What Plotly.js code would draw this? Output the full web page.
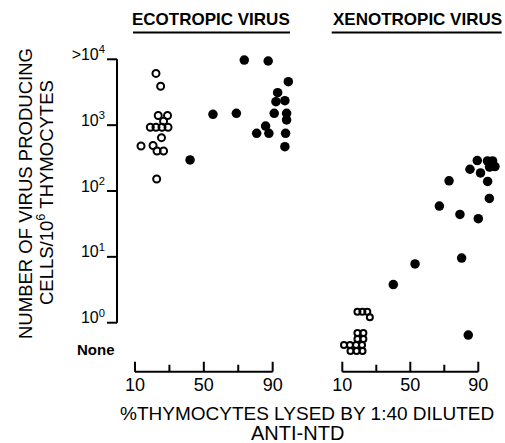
<!DOCTYPE html>
<html>
<head>
<meta charset="utf-8">
<script src="https://cdn.plot.ly/plotly-3.0.1.min.js"></script>
<style>html,body{margin:0;padding:0;background:#fff}#chart{width:505px;height:443px}</style>
</head>
<body>
<div id="chart"></div>
<script>
// Ecotropic virus panel
var ecoOpenX = [22.2, 24.9, 23.5, 28.9, 26.6, 18.9, 22.2, 25.7, 29.2, 25.4, 13.5, 20.5, 22.8, 26.6, 22.6];
var ecoOpenY = [6100, 3900, 1400, 1400, 1150, 930, 930, 930, 930, 645, 482, 491, 405, 405, 152];
var ecoFilledX = [73.5, 87.4, 99.1, 92.9, 91.9, 97.1, 55.3, 68.9, 90.9, 98.1, 98.1, 85.9, 80.7, 87.8, 97.5, 97.1, 42.0];
var ecoFilledY = [9750, 9420, 4570, 3110, 2270, 2350, 1460, 1510, 1510, 1510, 1200, 970, 752, 752, 752, 471, 296];
// Xenotropic virus panel
var xenoOpenX = [18.9, 21.8, 24.7, 26.2, 18.9, 22.4, 18.9, 22.4, 11.0, 14.5, 18.1, 21.6, 14.8, 18.4, 21.9];
var xenoOpenY = [1.47, 1.47, 1.47, 1.21, 0.70, 0.70, 0.565, 0.565, 0.458, 0.458, 0.458, 0.458, 0.372, 0.372, 0.372];
var xenoFilledX = [85.1, 89.4, 91.3, 95.4, 98.4, 96.6, 99.8, 95.5, 72.8, 96.5, 67.1, 79.2, 90.0, 80.2, 52.8, 40.0, 84.1];
var xenoFilledY = [214, 290, 188, 286, 286, 231, 235, 140, 143, 77, 59, 44, 38, 9.6, 7.8, 3.8, 0.65];
// Axis ticks
var xTickVals = [10, 50, 90];
var xMinorVals = [30, 70];
var yTickVals = [1, 10, 100, 1000, 10000];
var yTickText = ['10<sup>0</sup>', '10<sup>1</sup>', '10<sup>2</sup>', '10<sup>3</sup>', '>10<sup>4</sup>'];

var W = 505, H = 443;
function px(x){return x/W;}
function py(y){return (H-y)/H;}

var openMarker = {symbol:'circle-open', size:7, color:'#000', line:{width:2, color:'#000'}};
var openMarkerSmall = {symbol:'circle-open', size:6, color:'#000', line:{width:2, color:'#000'}};
var filledMarker = {symbol:'circle', size:9.5, color:'#000'};

var traces = [
  {x:ecoOpenX, y:ecoOpenY, type:'scatter', mode:'markers', marker:openMarker, xaxis:'x', yaxis:'y', cliponaxis:false, name:'Ecotropic open'},
  {x:ecoFilledX, y:ecoFilledY, type:'scatter', mode:'markers', marker:filledMarker, xaxis:'x', yaxis:'y', cliponaxis:false, name:'Ecotropic filled'},
  {x:xenoOpenX, y:xenoOpenY, type:'scatter', mode:'markers', marker:openMarkerSmall, xaxis:'x2', yaxis:'y', cliponaxis:false, name:'Xenotropic open'},
  {x:xenoFilledX, y:xenoFilledY, type:'scatter', mode:'markers', marker:filledMarker, xaxis:'x2', yaxis:'y', cliponaxis:false, name:'Xenotropic filled'}
];

var FONT = 'Liberation Sans, Arial, sans-serif';
var AXIS_Y = 371.7;   // pixel row of the x-axis lines
var Y_LINE_X = 117;   // pixel column of the y-axis line
function xAxis(domain, range){
  return {
    domain:domain, range:range, anchor:'free', position:py(AXIS_Y),
    showline:false, ticks:'', ticklabelstandoff:0,
    tickmode:'array', tickvals:xTickVals,
    tickfont:{family:FONT, size:18, color:'#000'},
    showgrid:false, zeroline:false, fixedrange:true
  };
}
// left panel: 10 -> px 135 at 1.7213 px/unit; right panel: 10 -> px 342.3 at 1.7 px/unit
var xaxis1 = xAxis([px(100), px(291.6)], [-10.33, 101]);
var xaxis2 = xAxis([px(340.6), px(497.85)], [9, 101.5]);

var shapes = [];
function line(xref, yref, x0, x1, y0, y1){
  shapes.push({type:'line', xref:xref, yref:yref, x0:x0, x1:x1, y0:y0, y1:y1, line:{color:'#000', width:2}});
}
// y-axis line and ticks (positions from the y scale)
line('paper', 'y', px(Y_LINE_X), px(Y_LINE_X), yTickVals[0], yTickVals[yTickVals.length-1]);
yTickVals.forEach(function(v){ line('paper', 'y', px(Y_LINE_X-10), px(Y_LINE_X), v, v); });
// x-axis lines and ticks for both panels (positions from each x scale)
['x', 'x2'].forEach(function(ax){
  line(ax, 'paper', xTickVals[0], xTickVals[xTickVals.length-1], py(AXIS_Y), py(AXIS_Y));
  xTickVals.forEach(function(v){ line(ax, 'paper', v, v, py(AXIS_Y), py(AXIS_Y-10)); });
  xMinorVals.forEach(function(v){ line(ax, 'paper', v, v, py(AXIS_Y), py(AXIS_Y-7)); });
});
// title underlines
line('paper', 'paper', px(133), px(290), py(32.5), py(32.5));
line('paper', 'paper', px(331.7), px(501.7), py(32.5), py(32.5));

var layout = {
  width:W, height:H, margin:{l:0,r:0,t:0,b:0},
  paper_bgcolor:'#fff', plot_bgcolor:'rgba(0,0,0,0)', showlegend:false,
  font:{family:FONT, color:'#000'},
  xaxis:xaxis1, xaxis2:xaxis2,
  yaxis:{
    type:'log', range:[-0.870, 4.05], domain:[py(380), py(56)], anchor:'free', position:px(Y_LINE_X),
    showline:false, ticks:'', ticklabelstandoff:12, ticklabelshift:-5,
    tickmode:'array', tickvals:yTickVals, ticktext:yTickText,
    tickfont:{family:FONT, size:16, color:'#000'},
    showgrid:false, zeroline:false, fixedrange:true
  },
  shapes:shapes,
  annotations:[
    {text:'<b>ECOTROPIC VIRUS</b>', xref:'paper', yref:'paper', x:px(211), y:py(20), xanchor:'center', yanchor:'middle', showarrow:false, font:{family:FONT, size:17, color:'#000'}},
    {text:'<b>XENOTROPIC VIRUS</b>', xref:'paper', yref:'paper', x:px(417.5), y:py(20), xanchor:'center', yanchor:'middle', showarrow:false, font:{family:FONT, size:17, color:'#000'}},
    {text:'<b>None</b>', xref:'paper', yref:'paper', x:px(96), y:py(349), xanchor:'center', yanchor:'middle', showarrow:false, font:{family:FONT, size:15, color:'#000'}},
    {text:'%THYMOCYTES LYSED BY 1:40 DILUTED', xref:'paper', yref:'paper', x:px(306.5), y:py(413), xanchor:'center', yanchor:'middle', showarrow:false, font:{family:FONT, size:19, color:'#000'}},
    {text:'ANTI-NTD', xref:'paper', yref:'paper', x:px(297.5), y:py(433), xanchor:'center', yanchor:'middle', showarrow:false, font:{family:FONT, size:20, color:'#000'}},
    {text:'NUMBER OF VIRUS PRODUCING', xref:'paper', yref:'paper', x:px(25), y:py(194), xanchor:'center', yanchor:'middle', textangle:-90, showarrow:false, font:{family:FONT, size:18.5, color:'#000'}},
    {text:'CELLS/10<sup>6</sup> THYMOCYTES', xref:'paper', yref:'paper', x:px(45), y:py(193), xanchor:'center', yanchor:'middle', textangle:-90, showarrow:false, font:{family:FONT, size:18.5, color:'#000'}}
  ]
};

Plotly.newPlot('chart', traces, layout, {displayModeBar:false, staticPlot:true});
</script>
</body>
</html>
